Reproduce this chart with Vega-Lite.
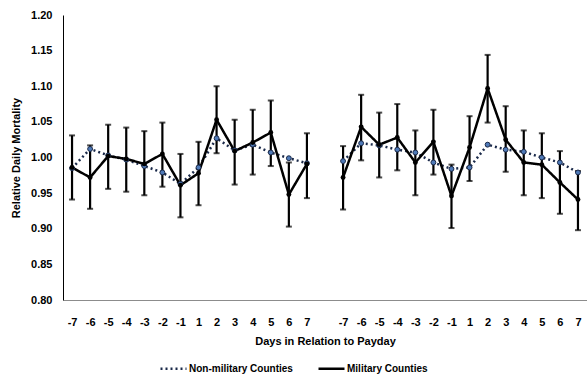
{
  "$schema": "https://vega.github.io/schema/vega-lite/v6.json",
  "width": 524,
  "height": 285,
  "autosize": {"type": "none"},
  "padding": {"left": 63, "top": 15, "right": 0, "bottom": 74},
  "background": "white",
  "config": {
    "view": {"stroke": null},
    "font": "Liberation Sans"
  },
  "data": {
    "values": [
      {"panel": "A", "slot": "A-7", "series": "Non-military Counties", "v": 0.985, "lo": 0.982, "hi": 0.988},
      {"panel": "A", "slot": "A-6", "series": "Non-military Counties", "v": 1.012, "lo": 1.009, "hi": 1.015},
      {"panel": "A", "slot": "A-5", "series": "Non-military Counties", "v": 1.003, "lo": 1.000, "hi": 1.006},
      {"panel": "A", "slot": "A-4", "series": "Non-military Counties", "v": 0.997, "lo": 0.994, "hi": 1.000},
      {"panel": "A", "slot": "A-3", "series": "Non-military Counties", "v": 0.988, "lo": 0.985, "hi": 0.991},
      {"panel": "A", "slot": "A-2", "series": "Non-military Counties", "v": 0.979, "lo": 0.976, "hi": 0.982},
      {"panel": "A", "slot": "A-1", "series": "Non-military Counties", "v": 0.963, "lo": 0.960, "hi": 0.966},
      {"panel": "A", "slot": "A1", "series": "Non-military Counties", "v": 0.986, "lo": 0.983, "hi": 0.989},
      {"panel": "A", "slot": "A2", "series": "Non-military Counties", "v": 1.027, "lo": 1.024, "hi": 1.030},
      {"panel": "A", "slot": "A3", "series": "Non-military Counties", "v": 1.010, "lo": 1.007, "hi": 1.013},
      {"panel": "A", "slot": "A4", "series": "Non-military Counties", "v": 1.018, "lo": 1.015, "hi": 1.021},
      {"panel": "A", "slot": "A5", "series": "Non-military Counties", "v": 1.007, "lo": 1.004, "hi": 1.010},
      {"panel": "A", "slot": "A6", "series": "Non-military Counties", "v": 0.999, "lo": 0.996, "hi": 1.002},
      {"panel": "A", "slot": "A7", "series": "Non-military Counties", "v": 0.992, "lo": 0.989, "hi": 0.995},
      {"panel": "B", "slot": "B-7", "series": "Non-military Counties", "v": 0.995, "lo": 0.992, "hi": 0.998},
      {"panel": "B", "slot": "B-6", "series": "Non-military Counties", "v": 1.020, "lo": 1.017, "hi": 1.023},
      {"panel": "B", "slot": "B-5", "series": "Non-military Counties", "v": 1.017, "lo": 1.014, "hi": 1.020},
      {"panel": "B", "slot": "B-4", "series": "Non-military Counties", "v": 1.011, "lo": 1.008, "hi": 1.014},
      {"panel": "B", "slot": "B-3", "series": "Non-military Counties", "v": 1.007, "lo": 1.004, "hi": 1.010},
      {"panel": "B", "slot": "B-2", "series": "Non-military Counties", "v": 0.993, "lo": 0.990, "hi": 0.996},
      {"panel": "B", "slot": "B-1", "series": "Non-military Counties", "v": 0.984, "lo": 0.981, "hi": 0.987},
      {"panel": "B", "slot": "B1", "series": "Non-military Counties", "v": 0.986, "lo": 0.983, "hi": 0.989},
      {"panel": "B", "slot": "B2", "series": "Non-military Counties", "v": 1.018, "lo": 1.015, "hi": 1.021},
      {"panel": "B", "slot": "B3", "series": "Non-military Counties", "v": 1.011, "lo": 1.008, "hi": 1.014},
      {"panel": "B", "slot": "B4", "series": "Non-military Counties", "v": 1.008, "lo": 1.005, "hi": 1.011},
      {"panel": "B", "slot": "B5", "series": "Non-military Counties", "v": 1.000, "lo": 0.997, "hi": 1.003},
      {"panel": "B", "slot": "B6", "series": "Non-military Counties", "v": 0.993, "lo": 0.990, "hi": 0.996},
      {"panel": "B", "slot": "B7", "series": "Non-military Counties", "v": 0.979, "lo": 0.976, "hi": 0.982},
      {"panel": "A", "slot": "A-7", "series": "Military Counties", "v": 0.986, "lo": 0.941, "hi": 1.031},
      {"panel": "A", "slot": "A-6", "series": "Military Counties", "v": 0.972, "lo": 0.928, "hi": 1.017},
      {"panel": "A", "slot": "A-5", "series": "Military Counties", "v": 1.002, "lo": 0.956, "hi": 1.046},
      {"panel": "A", "slot": "A-4", "series": "Military Counties", "v": 0.998, "lo": 0.952, "hi": 1.042},
      {"panel": "A", "slot": "A-3", "series": "Military Counties", "v": 0.991, "lo": 0.947, "hi": 1.037},
      {"panel": "A", "slot": "A-2", "series": "Military Counties", "v": 1.005, "lo": 0.959, "hi": 1.049},
      {"panel": "A", "slot": "A-1", "series": "Military Counties", "v": 0.961, "lo": 0.916, "hi": 1.005},
      {"panel": "A", "slot": "A1", "series": "Military Counties", "v": 0.978, "lo": 0.933, "hi": 1.022},
      {"panel": "A", "slot": "A2", "series": "Military Counties", "v": 1.053, "lo": 1.006, "hi": 1.100},
      {"panel": "A", "slot": "A3", "series": "Military Counties", "v": 1.009, "lo": 0.962, "hi": 1.053},
      {"panel": "A", "slot": "A4", "series": "Military Counties", "v": 1.021, "lo": 0.976, "hi": 1.067},
      {"panel": "A", "slot": "A5", "series": "Military Counties", "v": 1.035, "lo": 0.988, "hi": 1.080},
      {"panel": "A", "slot": "A6", "series": "Military Counties", "v": 0.948, "lo": 0.903, "hi": 0.993},
      {"panel": "A", "slot": "A7", "series": "Military Counties", "v": 0.991, "lo": 0.943, "hi": 1.034},
      {"panel": "B", "slot": "B-7", "series": "Military Counties", "v": 0.972, "lo": 0.927, "hi": 1.016},
      {"panel": "B", "slot": "B-6", "series": "Military Counties", "v": 1.043, "lo": 0.996, "hi": 1.088},
      {"panel": "B", "slot": "B-5", "series": "Military Counties", "v": 1.018, "lo": 0.972, "hi": 1.063},
      {"panel": "B", "slot": "B-4", "series": "Military Counties", "v": 1.028, "lo": 0.982, "hi": 1.075},
      {"panel": "B", "slot": "B-3", "series": "Military Counties", "v": 0.993, "lo": 0.947, "hi": 1.038},
      {"panel": "B", "slot": "B-2", "series": "Military Counties", "v": 1.022, "lo": 0.976, "hi": 1.067},
      {"panel": "B", "slot": "B-1", "series": "Military Counties", "v": 0.946, "lo": 0.901, "hi": 0.990},
      {"panel": "B", "slot": "B1", "series": "Military Counties", "v": 1.014, "lo": 0.967, "hi": 1.058},
      {"panel": "B", "slot": "B2", "series": "Military Counties", "v": 1.097, "lo": 1.049, "hi": 1.144},
      {"panel": "B", "slot": "B3", "series": "Military Counties", "v": 1.025, "lo": 0.980, "hi": 1.072},
      {"panel": "B", "slot": "B4", "series": "Military Counties", "v": 0.993, "lo": 0.947, "hi": 1.038},
      {"panel": "B", "slot": "B5", "series": "Military Counties", "v": 0.990, "lo": 0.943, "hi": 1.034},
      {"panel": "B", "slot": "B6", "series": "Military Counties", "v": 0.965, "lo": 0.921, "hi": 1.009},
      {"panel": "B", "slot": "B7", "series": "Military Counties", "v": 0.941, "lo": 0.898, "hi": 0.981}
    ]
  },
  "encoding": {
    "x": {
      "field": "slot",
      "type": "ordinal",
      "scale": {
        "type": "point",
        "padding": 0.5,
        "domain": ["A-7","A-6","A-5","A-4","A-3","A-2","A-1","A1","A2","A3","A4","A5","A6","A7","gap","B-7","B-6","B-5","B-4","B-3","B-2","B-1","B1","B2","B3","B4","B5","B6","B7"]
      },
      "axis": {
        "title": "Days in Relation to Payday",
        "labelExpr": "datum.value == 'gap' ? '' : slice(datum.value, 1)",
        "labelAngle": 0,
        "ticks": false,
        "grid": false,
        "domainColor": "#8c8c8c",
        "domainWidth": 1,
        "labelPadding": 16,
        "labelFont": "Liberation Sans",
        "labelFontWeight": "bold",
        "labelFontSize": 11,
        "labelColor": "#000",
        "titleFont": "Liberation Sans",
        "titleFontWeight": "bold",
        "titleFontSize": 11,
        "titleColor": "#000",
        "titlePadding": 8
      }
    }
  },
  "layer": [
    {
      "transform": [{"filter": "datum.series == 'Military Counties'"}],
      "mark": {"type": "rule", "color": "#000", "strokeWidth": 2.2},
      "encoding": {
        "y": {"field": "lo", "type": "quantitative", "scale": {"domain": [0.8, 1.2]},
          "axis": {"title": "Relative Daily Mortality", "values": [0.8,0.85,0.9,0.95,1.0,1.05,1.1,1.15,1.2], "format": ".2f", "ticks": false, "grid": false, "domainColor": "#000", "labelPadding": 11, "labelFont": "Liberation Sans", "labelFontWeight": "bold", "labelFontSize": 11, "labelColor": "#000", "titleFont": "Liberation Sans", "titleFontWeight": "bold", "titleFontSize": 11, "titleColor": "#000", "titlePadding": 9}},
        "y2": {"field": "hi"}
      }
    },
    {
      "transform": [{"filter": "datum.series == 'Military Counties'"}],
      "mark": {"type": "tick", "color": "#000", "size": 6, "thickness": 2, "orient": "horizontal"},
      "encoding": {
        "y": {"field": "lo", "type": "quantitative", "scale": {"domain": [0.8, 1.2]},
          "axis": {"title": "Relative Daily Mortality", "values": [0.8,0.85,0.9,0.95,1.0,1.05,1.1,1.15,1.2], "format": ".2f", "ticks": false, "grid": false, "domainColor": "#000", "labelPadding": 11, "labelFont": "Liberation Sans", "labelFontWeight": "bold", "labelFontSize": 11, "labelColor": "#000", "titleFont": "Liberation Sans", "titleFontWeight": "bold", "titleFontSize": 11, "titleColor": "#000", "titlePadding": 9}}
      }
    },
    {
      "transform": [{"filter": "datum.series == 'Military Counties'"}],
      "mark": {"type": "tick", "color": "#000", "size": 6, "thickness": 2, "orient": "horizontal"},
      "encoding": {
        "y": {"field": "hi", "type": "quantitative", "scale": {"domain": [0.8, 1.2]},
          "axis": {"title": "Relative Daily Mortality", "values": [0.8,0.85,0.9,0.95,1.0,1.05,1.1,1.15,1.2], "format": ".2f", "ticks": false, "grid": false, "domainColor": "#000", "labelPadding": 11, "labelFont": "Liberation Sans", "labelFontWeight": "bold", "labelFontSize": 11, "labelColor": "#000", "titleFont": "Liberation Sans", "titleFontWeight": "bold", "titleFontSize": 11, "titleColor": "#000", "titlePadding": 9}}
      }
    },
    {
      "mark": {"type": "line", "strokeWidth": 2.5, "strokeCap": "butt"},
      "encoding": {
        "y": {"field": "v", "type": "quantitative", "scale": {"domain": [0.8, 1.2]},
          "axis": {"title": "Relative Daily Mortality", "values": [0.8,0.85,0.9,0.95,1.0,1.05,1.1,1.15,1.2], "format": ".2f", "ticks": false, "grid": false, "domainColor": "#000", "labelPadding": 11, "labelFont": "Liberation Sans", "labelFontWeight": "bold", "labelFontSize": 11, "labelColor": "#000", "titleFont": "Liberation Sans", "titleFontWeight": "bold", "titleFontSize": 11, "titleColor": "#000", "titlePadding": 9}},
        "detail": {"field": "panel", "type": "nominal"},
        "color": {
          "field": "series", "type": "nominal",
          "scale": {"domain": ["Non-military Counties", "Military Counties"], "range": ["#1b2a4a", "#000000"]},
          "legend": {"title": null, "orient": "none", "legendX": 96, "legendY": 339, "direction": "horizontal", "symbolType": "stroke", "symbolStrokeWidth": 2.5, "symbolSize": 676, "labelFont": "Liberation Sans", "labelFontSize": 10, "labelFontWeight": "bold", "labelColor": "#000", "labelOffset": 1, "columnPadding": 20}
        },
        "strokeDash": {
          "field": "series", "type": "nominal",
          "scale": {"domain": ["Non-military Counties", "Military Counties"], "range": [[2, 3], [1, 0]]},
          "legend": {"title": null, "orient": "none", "legendX": 96, "legendY": 339, "direction": "horizontal", "symbolType": "stroke", "symbolStrokeWidth": 2.5, "symbolSize": 676, "labelFont": "Liberation Sans", "labelFontSize": 10, "labelFontWeight": "bold", "labelColor": "#000", "labelOffset": 1, "columnPadding": 20}
        }
      }
    },
    {
      "transform": [{"filter": "datum.series == 'Non-military Counties'"}],
      "mark": {"type": "rule", "color": "#1b2a4a", "strokeWidth": 1.5},
      "encoding": {
        "y": {"field": "lo", "type": "quantitative", "scale": {"domain": [0.8, 1.2]},
          "axis": {"title": "Relative Daily Mortality", "values": [0.8,0.85,0.9,0.95,1.0,1.05,1.1,1.15,1.2], "format": ".2f", "ticks": false, "grid": false, "domainColor": "#000", "labelPadding": 11, "labelFont": "Liberation Sans", "labelFontWeight": "bold", "labelFontSize": 11, "labelColor": "#000", "titleFont": "Liberation Sans", "titleFontWeight": "bold", "titleFontSize": 11, "titleColor": "#000", "titlePadding": 9}},
        "y2": {"field": "hi"}
      }
    },
    {
      "transform": [{"filter": "datum.series == 'Non-military Counties'"}],
      "mark": {"type": "point", "filled": true, "size": 24, "fill": "#4f7ab8", "stroke": "#1b2a4a", "strokeWidth": 1, "opacity": 1},
      "encoding": {
        "y": {"field": "v", "type": "quantitative", "scale": {"domain": [0.8, 1.2]},
          "axis": {"title": "Relative Daily Mortality", "values": [0.8,0.85,0.9,0.95,1.0,1.05,1.1,1.15,1.2], "format": ".2f", "ticks": false, "grid": false, "domainColor": "#000", "labelPadding": 11, "labelFont": "Liberation Sans", "labelFontWeight": "bold", "labelFontSize": 11, "labelColor": "#000", "titleFont": "Liberation Sans", "titleFontWeight": "bold", "titleFontSize": 11, "titleColor": "#000", "titlePadding": 9}}
      }
    },
    {
      "transform": [{"filter": "datum.series == 'Military Counties'"}],
      "mark": {"type": "point", "filled": true, "size": 24, "color": "#000", "opacity": 1},
      "encoding": {
        "y": {"field": "v", "type": "quantitative", "scale": {"domain": [0.8, 1.2]},
          "axis": {"title": "Relative Daily Mortality", "values": [0.8,0.85,0.9,0.95,1.0,1.05,1.1,1.15,1.2], "format": ".2f", "ticks": false, "grid": false, "domainColor": "#000", "labelPadding": 11, "labelFont": "Liberation Sans", "labelFontWeight": "bold", "labelFontSize": 11, "labelColor": "#000", "titleFont": "Liberation Sans", "titleFontWeight": "bold", "titleFontSize": 11, "titleColor": "#000", "titlePadding": 9}}
      }
    }
  ]
}
